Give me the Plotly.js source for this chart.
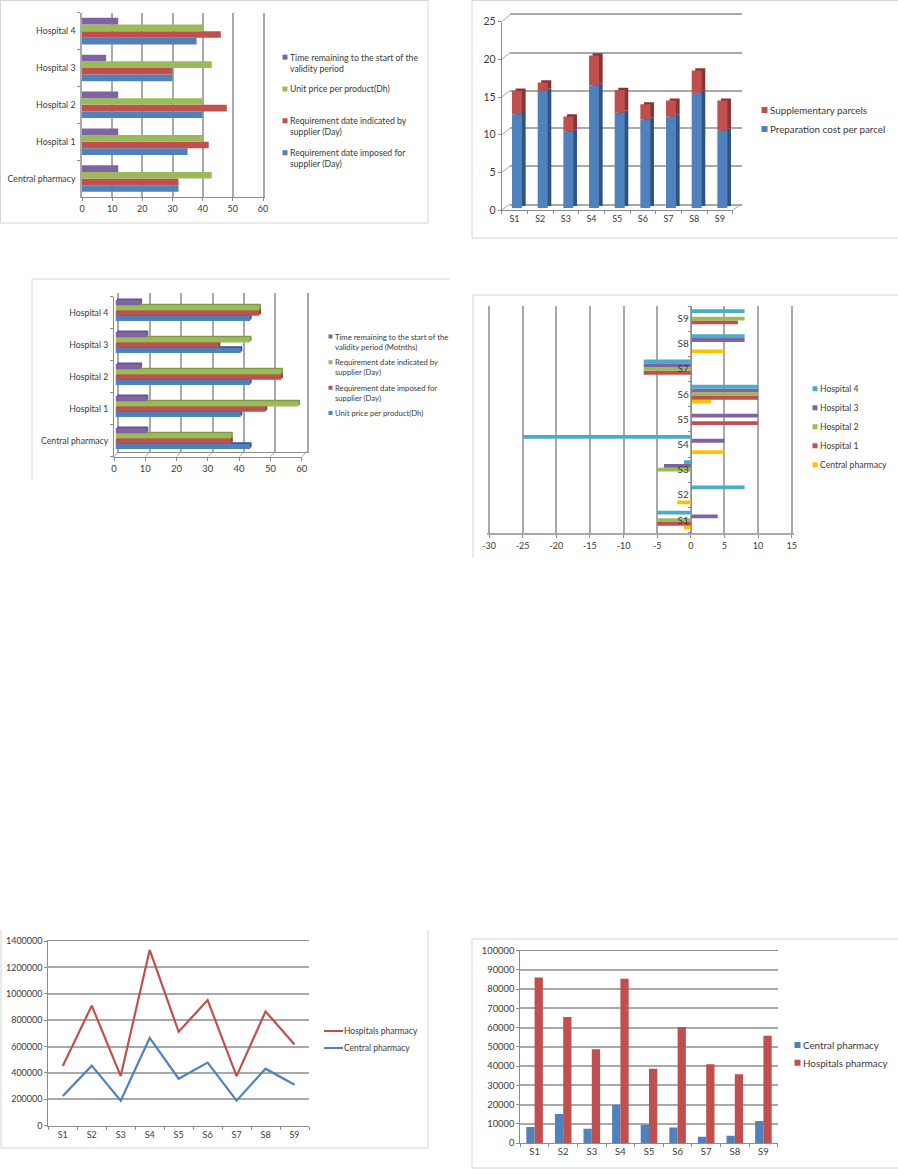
<!DOCTYPE html>
<html><head><meta charset="utf-8">
<script src="https://cdn.plot.ly/plotly-3.0.1.min.js"></script>
<style>html,body{margin:0;padding:0;background:#fff}#g{width:898px;height:1169px}</style>
</head><body><div id="g"></div>
<script>
// ---------- data ----------
const places = ['Central pharmacy','Hospital 1','Hospital 2','Hospital 3','Hospital 4'];
const suppliers = ['S1','S2','S3','S4','S5','S6','S7','S8','S9'];

// chart 1
const c1Imposed = [32,35,40,30,38];
const c1Indicated = [32,42,48,30,46];
const c1Price = [43,40,40,43,40];
const c1Time = [12,12,12,8,12];
// chart 2
const c2Prep = [12.5,15.6,10.2,16.3,12.7,11.8,12.2,15.3,10.3];
const c2Supp = [3.1,1.1,2,4,3,2,2.1,3,4];
// chart 3
const c3Price = [43,40,43,40,43];
const c3Imposed = [37,48,53,33,46];
const c3Indicated = [37,58.5,53,43,46];
const c3Time = [10,10,8,10,8];
// chart 4
const c4Central = [-1,-2,0,5,0,3,0,5,0];
const c4H1 = [-5,0,0,0,10,10,-7,0,7];
const c4H2 = [-5,0,-5,0,0,10,-7,0,8];
const c4H3 = [4,0,-4,5,10,10,-7,8,0];
const c4H4 = [-5,8,-1,-25,0,10,-7,8,8];
const c4Ticks = ['-30','-25','-20','-15','-10','-5','0','5','10','15'];
const c4TickVals = [-30,-25,-20,-15,-10,-5,0,5,10,15];
// chart 5
const c5Hospitals = [452000,910000,376000,1332000,712000,952000,376000,866000,616000];
const c5Central = [225000,455000,190000,665000,356000,478000,190000,432000,311000];
// chart 6
const c6Central = [8300,15100,7450,19900,9500,8000,3300,3800,11400];
const c6Hospitals = [86000,65500,48700,85400,38600,60300,41000,35700,55800];

// ---------- styling ----------
const W=898,H=1169;
const BLUE='#4F81BD',RED='#C0504D',GREEN='#9BBB59',PURPLE='#8064A2',TEAL='#4BACC6',YELLOW='#FFC000';
const DBLUE='#2F5380',DRED='#8A3432',DGREEN='#7F9A48',DPURPLE='#6A5288';
const GRID='#A9A9A9',AX='#8C8C8C',TXT='#3A3A3A',FONT='Lato, "Open Sans", sans-serif';
const fx=p=>p/W, fy=p=>1-p/H;
const tf=s=>({size:s,color:TXT,family:FONT});
const layout={width:W,height:H,margin:{l:0,r:0,t:0,b:0,pad:0},paper_bgcolor:'#fff',plot_bgcolor:'rgba(0,0,0,0)',
  barmode:'overlay',showlegend:true,font:{family:FONT,size:9,color:TXT},shapes:[],hovermode:false};
const traces=[];

function axes(n,xa,xb,ytop,ybot,xo,yo){
  const s=n===1?'':n;
  layout['xaxis'+s]=Object.assign({domain:[fx(xa),fx(xb)],anchor:'y'+s,showgrid:false,zeroline:false,showline:false,ticks:'',tickangle:0,
     showticklabels:false,tickfont:tf(9),linecolor:AX,tickcolor:AX,gridcolor:GRID,gridwidth:1.5,ticklen:3},xo);
  layout['yaxis'+s]=Object.assign({domain:[fy(ybot),fy(ytop)],anchor:'x'+s,showgrid:false,zeroline:false,showline:false,ticks:'',
     showticklabels:false,tickfont:tf(9),linecolor:AX,tickcolor:AX,gridcolor:GRID,gridwidth:1.5,ticklen:3},yo);
  return ['x'+s,'y'+s];
}
function line(x0,y0,x1,y1,color,w){layout.shapes.push({type:'line',xref:'paper',yref:'paper',layer:'below',x0:fx(x0),x1:fx(x1),y0:fy(y0),y1:fy(y1),line:{color:color||'#D4D4D4',width:w||1}});}
function legendAt(id,x,y,size,order){layout[id]={xref:'paper',yref:'paper',x:fx(x-40),y:fy(y-5),xanchor:'left',yanchor:'top',bgcolor:'rgba(0,0,0,0)',borderwidth:0,
   font:tf(size||9),traceorder:order||'normal',itemclick:false,itemdoubleclick:false};}
function hbar(a,name,vals,cats,color,i,n,gw,legend){
  traces.push({type:'bar',orientation:'h',x:vals,y:cats,name:name,marker:{color:color,line:{width:0}},xaxis:a[0],yaxis:a[1],
     width:gw/n,offset:-gw/2+i*gw/n,showlegend:!!legend,legend:legend||undefined,hoverinfo:'skip'});
}
function anchorTrace(a,cats,horizontal){
  traces.push(horizontal?{type:'scatter',mode:'none',x:cats.map(()=>null),y:cats,xaxis:a[0],yaxis:a[1],showlegend:false,hoverinfo:'skip'}
    :{type:'scatter',mode:'none',x:cats,y:cats.map(()=>null),xaxis:a[0],yaxis:a[1],showlegend:false,hoverinfo:'skip'});
}

// ---------- frames ----------
line(0,0.5,428,0.5);line(428,0.5,428,223);line(428,223,0,223);line(0.5,0,0.5,223);
line(472,0,472,238);line(472,238,898,238);line(472,0.5,898,0.5);
line(32,279,450,279);line(32,279,32,480);
line(473,295,898,295);line(473,295,473,558);
line(1,930,1,1148);line(428,930,428,1148);line(1,1148,428,1148);
line(472,939,898,939);line(472,939,472,1168);line(472,1168,898,1168);

// ---------- chart 1 ----------
{
 const a=axes(1,82,263,12.7,197,
  {range:[0,60],dtick:10,showgrid:true,showline:true,ticks:'outside',showticklabels:true,tickfont:tf(9)},
  {type:'category',categoryarray:places,range:[-.5,4.5],showline:true,mirror:true,linecolor:GRID,linewidth:1.5,ticks:'outside',tickson:'boundaries',showticklabels:true,ticklabelstandoff:3,tickfont:tf(8.8)});
 const g=.72;
 hbar(a,'Requirement date imposed for<br>supplier (Day)',c1Imposed,places,BLUE,0,4,g,'legend4');
 hbar(a,'Requirement date indicated by<br>supplier (Day)',c1Indicated,places,RED,1,4,g,'legend3');
 hbar(a,'Unit price per product(Dh)',c1Price,places,GREEN,2,4,g,'legend2');
 hbar(a,'Time remaining to the start of the<br>validity period',c1Time,places,PURPLE,3,4,g,'legend');
 legendAt('legend',290,50,8.7);legendAt('legend2',290,79.5,8.7);legendAt('legend3',290,113.5,8.7);legendAt('legend4',290,145.5,8.7);
}
// ---------- chart 2 (pseudo-3D: wall, side faces, front faces, axes) ----------
{
 const cr=[-.5,8.5];
 const wall=axes(2,510,742,15,204,{type:'category',categoryarray:suppliers,range:cr,showline:true,mirror:true,linecolor:GRID,linewidth:1.5},{range:[0,25],dtick:5,showgrid:true});
 anchorTrace(wall,suppliers,false);
 const side=axes(3,507.8,738.8,17.8,206.1,{type:'category',categoryarray:suppliers,range:cr},{range:[0,25]});
 const w=.39;
 traces.push({type:'bar',x:suppliers,y:c2Prep,marker:{color:DBLUE,line:{width:0}},xaxis:side[0],yaxis:side[1],width:w,offset:-w/2,showlegend:false,hoverinfo:'skip'});
 traces.push({type:'bar',x:suppliers,y:c2Supp,base:c2Prep,marker:{color:DRED,line:{width:0}},xaxis:side[0],yaxis:side[1],width:w,offset:-w/2,showlegend:false,hoverinfo:'skip'});
 const front=axes(4,504.2,735.2,20,208.3,{type:'category',categoryarray:suppliers,range:cr},{range:[0,25]});
 traces.push({type:'bar',x:suppliers,y:c2Prep,name:'Preparation cost per parcel',marker:{color:BLUE,line:{width:0}},xaxis:front[0],yaxis:front[1],width:w,offset:-w/2,legend:'legend5',hoverinfo:'skip'});
 traces.push({type:'bar',x:suppliers,y:c2Supp,base:c2Prep,name:'Supplementary parcels',marker:{color:RED,line:{width:0}},xaxis:front[0],yaxis:front[1],width:w,offset:-w/2,legend:'legend5',hoverinfo:'skip'});
 const lab=axes(5,501.7,732.7,21.7,210,
   {type:'category',categoryarray:suppliers,range:cr,showline:true,ticks:'outside',tickson:'boundaries',showticklabels:true,tickfont:tf(9)},
   {range:[0,25],dtick:5,showline:true,ticks:'outside',showticklabels:true,tickfont:tf(10.5)});
 anchorTrace(lab,suppliers,false);
 legendAt('legend5',770,100.5,9.8,'reversed');
 [0,5,10,15,20,25].forEach(v=>{const k=v/25;line(501.7,210-k*188.3,510,204-k*189,GRID,1);});
 line(732.7,210,742,204,GRID,1);
}
// ---------- chart 3 (pseudo-3D) ----------
{
 const cr=[-.5,4.5],g=.65;
 const wall=axes(6,118.5,306.7,293,451.7,{range:[0,60],dtick:10,showgrid:true,showline:true},{type:'category',categoryarray:places,range:cr,showline:true,mirror:true,linecolor:GRID,linewidth:1.5});
 anchorTrace(wall,places,true);
 const side=axes(7,117,304.8,293,453,{range:[0,60]},{type:'category',categoryarray:places,range:cr});
 const front=axes(8,115.5,303.3,294.5,454.5,{range:[0,60]},{type:'category',categoryarray:places,range:cr});
 const darks=[DBLUE,DRED,DGREEN,DPURPLE],cols=[BLUE,RED,GREEN,PURPLE],vals=[c3Price,c3Imposed,c3Indicated,c3Time];
 const names=['Unit price per product(Dh)','Requirement date imposed for<br>supplier (Day)','Requirement date indicated by<br>supplier (Day)','Time remaining to the start of the<br>validity period (Motnths)'];
 const ids=['legend14','legend13','legend12','legend6'];
 vals.forEach((v,i)=>hbar(side,'',v,places,darks[i],i,4,g,null));
 vals.forEach((v,i)=>hbar(front,names[i],v,places,cols[i],i,4,g,ids[i]));
 const lab=axes(9,114,301.7,296.7,456.7,
   {range:[0,60],dtick:10,showline:true,ticks:'outside',showticklabels:true,tickfont:tf(9.5)},
   {type:'category',categoryarray:places,range:cr,showline:true,ticks:'outside',tickson:'boundaries',showticklabels:true,ticklabelstandoff:3,tickfont:tf(8.7)});
 anchorTrace(lab,places,true);
 legendAt('legend6',335,330,7.7);legendAt('legend12',335,355.8,7.7);legendAt('legend13',335,381.3,7.7);legendAt('legend14',335,403.5,7.7);
 [0,1,2,3,4,5,6].forEach(k=>line(114+k*31.28,456.7,118.5+k*31.37,451.7,GRID,1));
}
// ---------- chart 4 ----------
{
 const pad=2/6.72;
 const a=axes(10,487,793.7,306,532.7,
  {range:[-30-pad,15+pad],tickvals:c4TickVals,ticktext:c4Ticks,showgrid:true,gridwidth:1.8,showline:true,ticks:'outside',showticklabels:true,linecolor:GRID,linewidth:2,tickfont:tf(9)},
  {type:'category',categoryarray:suppliers,range:[-.5,8.5],showline:true,ticks:'outside',tickson:'boundaries',showticklabels:true,anchor:'free',position:fx(690.7),tickfont:tf(10)});
 const g=.75;
 hbar(a,'Central pharmacy',c4Central,suppliers,YELLOW,0,5,g,'legend7');
 hbar(a,'Hospital 1',c4H1,suppliers,RED,1,5,g,'legend7');
 hbar(a,'Hospital 2',c4H2,suppliers,GREEN,2,5,g,'legend7');
 hbar(a,'Hospital 3',c4H3,suppliers,PURPLE,3,5,g,'legend7');
 hbar(a,'Hospital 4',c4H4,suppliers,TEAL,4,5,g,'legend7');
 legendAt('legend7',820,379.2,8.6,'reversed');
}
// ---------- chart 5 ----------
{
 const a=axes(11,48.3,309,941,1125.7,
  {type:'category',categoryarray:suppliers,range:[-.5,8.5],showline:true,mirror:true,ticks:'outside',tickson:'boundaries',showticklabels:true,tickfont:tf(9)},
  {range:[0,1400000],dtick:200000,tickformat:'d',showgrid:true,showline:true,ticks:'outside',showticklabels:true,tickfont:tf(9)});
 traces.push({type:'scatter',mode:'lines',x:suppliers,y:c5Central,name:'Central pharmacy',line:{color:BLUE,width:2.2},xaxis:a[0],yaxis:a[1],legend:'legend9',hoverinfo:'skip'});
 traces.push({type:'scatter',mode:'lines',x:suppliers,y:c5Hospitals,name:'Hospitals pharmacy',line:{color:RED,width:2.2},xaxis:a[0],yaxis:a[1],legend:'legend8',hoverinfo:'skip'});
 legendAt('legend8',344,1021.5,8.5);legendAt('legend9',344,1038.5,8.5);
}
// ---------- chart 6 ----------
{
 const a=axes(15,520.3,777.7,950.7,1143,
  {type:'category',categoryarray:suppliers,range:[-.5,8.5],showline:true,mirror:true,ticks:'outside',tickson:'boundaries',showticklabels:true,tickfont:tf(9.5)},
  {range:[0,100000],dtick:10000,tickformat:'d',showgrid:true,showline:true,ticks:'outside',showticklabels:true,tickfont:tf(9.4)});
 const g=.58;
 traces.push({type:'bar',x:suppliers,y:c6Central,name:'Central pharmacy',marker:{color:BLUE,line:{width:0}},xaxis:a[0],yaxis:a[1],width:g/2,offset:-g/2,legend:'legend10',hoverinfo:'skip'});
 traces.push({type:'bar',x:suppliers,y:c6Hospitals,name:'Hospitals pharmacy',marker:{color:RED,line:{width:0}},xaxis:a[0],yaxis:a[1],width:g/2,offset:0,legend:'legend11',hoverinfo:'skip'});
 legendAt('legend10',803,1035.5,9.8);legendAt('legend11',803,1053.2,9.8);
}

function compactKeys(){
  // compact legend keys, as in the original office-style legend: small square beside the first text line
  document.querySelectorAll('#g g.legendpoints path').forEach(p=>{
    const d=p.getAttribute('d')||'';
    if(!/H-/.test(d))return;
    let n=p.parentNode;
    while(n&&n.querySelector&&!n.querySelector('text'))n=n.parentNode;
    const t=n&&n.querySelector?n.querySelector('text'):null;
    if(!t)return;
    const size=parseFloat(getComputedStyle(t).fontSize)||9;
    const lines=t.querySelectorAll('tspan.line').length;
    const s=size<8?2:size>9.5?3:2.5;
    const dy=lines>1?-size*0.65:0;
    p.setAttribute('d',`M${s},${s}H-${s}V-${s}H${s}Z`);
    p.setAttribute('transform',`translate(${37.5-s},${dy})`);
  });
  document.querySelectorAll('#g g.legendlines path').forEach(p=>p.setAttribute('d','M20,0h19'));
}
Plotly.newPlot('g',traces,layout,{displayModeBar:false}).then(gd=>{
  compactKeys();gd.on('plotly_afterplot',compactKeys);setTimeout(compactKeys,50);
});
</script></body></html>
